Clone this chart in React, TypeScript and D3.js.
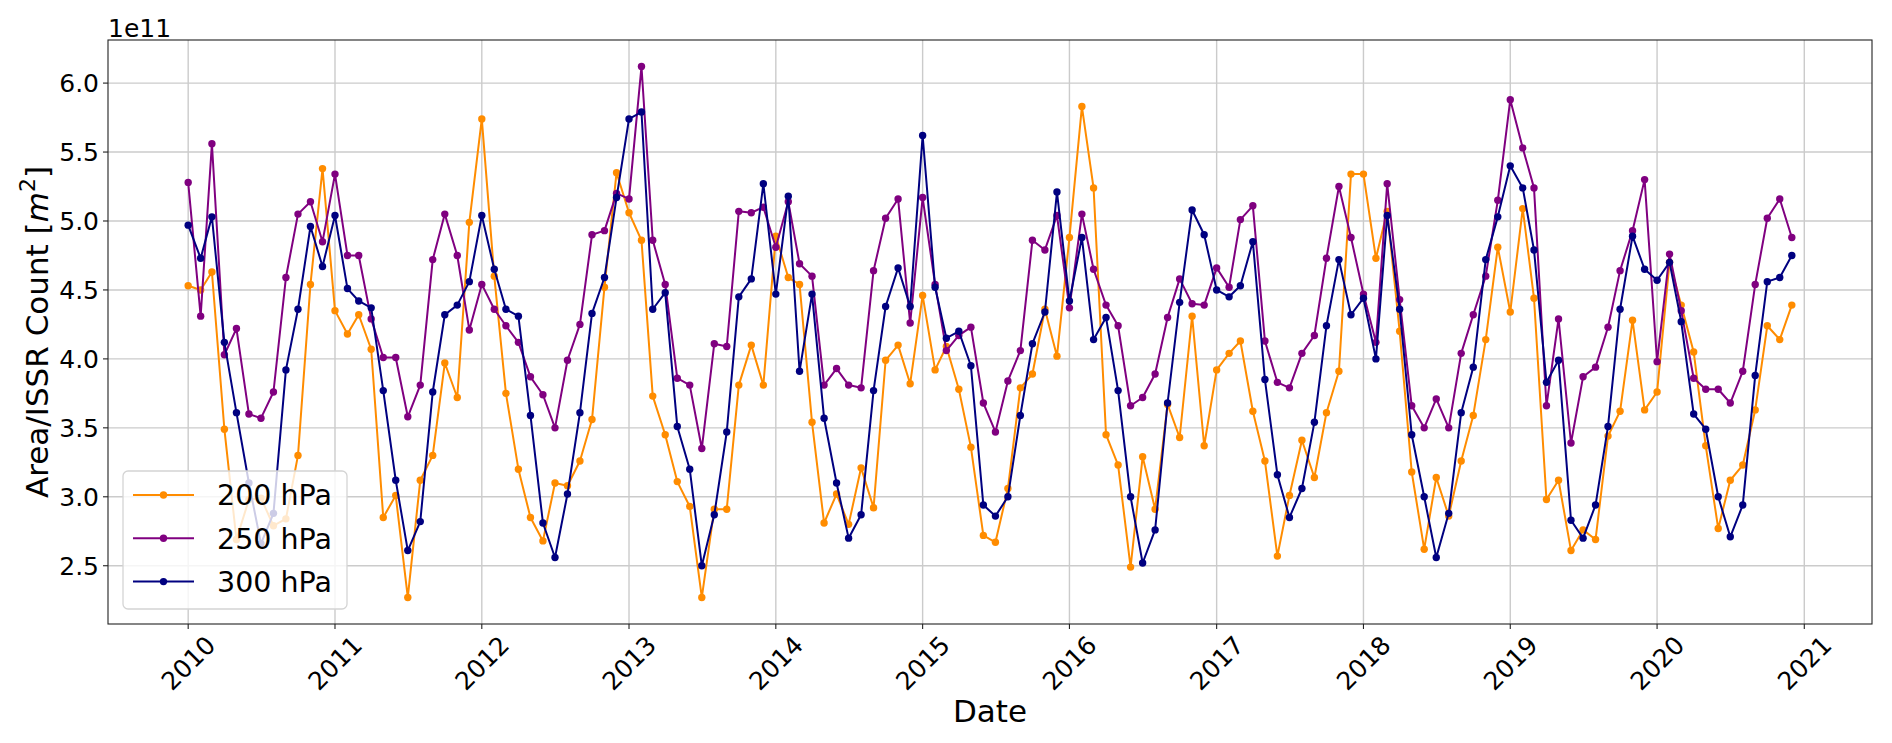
import { useEffect } from "react"
import * as d3 from "d3"

// monthly values, Jan 2010 .. Dec 2020, in units of 1e11 m^2
const hpa200 = [
  4.53, 4.5, 4.63, 3.49, 2.69, 2.98, 2.99, 2.79, 2.84, 3.3, 4.54, 5.38,
  4.35, 4.18, 4.32, 4.07, 2.85, 3.01, 2.27, 3.12, 3.3, 3.97, 3.72, 4.99,
  5.74, 4.6, 3.75, 3.2, 2.85, 2.68, 3.1, 3.08, 3.26, 3.56, 4.52, 5.35,
  5.06, 4.86, 3.73, 3.45, 3.11, 2.93, 2.27, 2.91, 2.91, 3.81, 4.1, 3.81,
  4.89, 4.59, 4.54, 3.54, 2.81, 3.02, 2.8, 3.21, 2.92, 3.99, 4.1, 3.82,
  4.46, 3.92, 4.09, 3.78, 3.36, 2.72, 2.67, 3.06, 3.79, 3.89, 4.36, 4.02,
  4.88, 5.83, 5.24, 3.45, 3.23, 2.49, 3.29, 2.91, 3.67, 3.43, 4.31, 3.37,
  3.92, 4.04, 4.13, 3.62, 3.26, 2.57, 3.01, 3.41, 3.14, 3.61, 3.91, 5.34,
  5.34, 4.73, 5.07, 4.2, 3.18, 2.62, 3.14, 2.86, 3.26, 3.59, 4.14, 4.81,
  4.34, 5.09, 4.44, 2.98, 3.12, 2.61, 2.76, 2.69, 3.44, 3.62, 4.28, 3.63,
  3.76, 4.7, 4.39, 4.05, 3.37, 2.77, 3.12, 3.23, 3.63, 4.24, 4.14, 4.39,
]
const hpa250 = [
  5.28, 4.31, 5.56, 4.03, 4.22, 3.6, 3.57, 3.76, 4.59, 5.05, 5.14, 4.85,
  5.34, 4.75, 4.75, 4.29, 4.01, 4.01, 3.58, 3.81, 4.72, 5.05, 4.75, 4.21,
  4.54, 4.36, 4.24, 4.12, 3.87, 3.74, 3.5, 3.99, 4.25, 4.9, 4.93, 5.2,
  5.16, 6.12, 4.86, 4.54, 3.86, 3.81, 3.35, 4.11, 4.09, 5.07, 5.06, 5.1,
  4.81, 5.14, 4.69, 4.6, 3.81, 3.93, 3.81, 3.79, 4.64, 5.02, 5.16, 4.26,
  5.17, 4.54, 4.06, 4.17, 4.23, 3.68, 3.47, 3.84, 4.06, 4.86, 4.79, 5.04,
  4.37, 5.05, 4.65, 4.39, 4.24, 3.66, 3.72, 3.89, 4.3, 4.58, 4.4, 4.39,
  4.66, 4.52, 5.01, 5.11, 4.13, 3.83, 3.79, 4.04, 4.17, 4.73, 5.25, 4.88,
  4.47, 4.12, 5.27, 4.43, 3.66, 3.5, 3.71, 3.5, 4.04, 4.32, 4.6, 5.15,
  5.88, 5.53, 5.24, 3.66, 4.29, 3.39, 3.87, 3.94, 4.23, 4.64, 4.93, 5.3,
  3.98, 4.76, 4.35, 3.86, 3.78, 3.78, 3.68, 3.91, 4.54, 5.02, 5.16, 4.88,
]
const hpa300 = [
  4.97, 4.73, 5.03, 4.12, 3.61, 3.1, 2.66, 2.88, 3.92, 4.36, 4.96, 4.67,
  5.04, 4.51, 4.42, 4.37, 3.77, 3.12, 2.61, 2.82, 3.76, 4.32, 4.39, 4.56,
  5.04, 4.65, 4.36, 4.31, 3.59, 2.81, 2.56, 3.02, 3.61, 4.33, 4.59, 5.17,
  5.74, 5.79, 4.36, 4.48, 3.51, 3.2, 2.5, 2.87, 3.47, 4.45, 4.58, 5.27,
  4.47, 5.18, 3.91, 4.47, 3.57, 3.1, 2.7, 2.87, 3.77, 4.38, 4.66, 4.38,
  5.62, 4.52, 4.15, 4.2, 3.95, 2.94, 2.86, 3.0, 3.59, 4.11, 4.34, 5.21,
  4.42, 4.88, 4.14, 4.3, 3.77, 3.0, 2.52, 2.76, 3.68, 4.41, 5.08, 4.9,
  4.5, 4.45, 4.53, 4.85, 3.85, 3.16, 2.85, 3.06, 3.54, 4.24, 4.72, 4.32,
  4.44, 4.0, 5.04, 4.36, 3.45, 3.0, 2.56, 2.88, 3.61, 3.94, 4.72, 5.03,
  5.4, 5.24, 4.79, 3.83, 3.99, 2.83, 2.7, 2.94, 3.51, 4.36, 4.89, 4.65,
  4.57, 4.7, 4.27, 3.6, 3.49, 3.0, 2.71, 2.94, 3.88, 4.56, 4.59, 4.75,
]
const seriesNames = ["200 hPa", "250 hPa", "300 hPa"]
const seriesColors = ["darkorange", "purple", "navy"]
const yTicks = [2.5, 3.0, 3.5, 4.0, 4.5, 5.0, 5.5, 6.0]
const xTickYears = d3.range(2010, 2022)

const W = 1892
const H = 743
const margin = { top: 40, right: 20, bottom: 119, left: 108 }
const font = "DejaVu Sans, sans-serif"

export default function App() {
  useEffect(() => {
    document.body.style.margin = "0"
  }, [])

  const allSeries = [hpa200, hpa250, hpa300]
  const dates = hpa200.map((_, i) => new Date(2010, i, 1))

  // matplotlib-like 5% padding
  const t0 = +dates[0]
  const t1 = +dates[dates.length - 1]
  const tp = (t1 - t0) * 0.05
  const x = d3
    .scaleTime()
    .domain([new Date(t0 - tp), new Date(t1 + tp)])
    .range([margin.left, W - margin.right])

  const lo = d3.min(allSeries.flat()) as number
  const hi = d3.max(allSeries.flat()) as number
  const yp = (hi - lo) * 0.05
  const y = d3
    .scaleLinear()
    .domain([lo - yp, hi + yp])
    .range([H - margin.bottom, margin.top])

  const line = d3
    .line<number>()
    .x((_, i) => x(dates[i]))
    .y((d) => y(d))

  const x0 = margin.left
  const x1 = W - margin.right
  const y0 = H - margin.bottom
  const y1 = margin.top

  return (
    <svg width={W} height={H} style={{ display: "block" }} fontFamily={font}>
      <rect x={0} y={0} width={W} height={H} fill="#fff" />

      {/* grid */}
      {xTickYears.map((yr) => (
        <line key={"gx" + yr} x1={x(new Date(yr, 0, 1))} x2={x(new Date(yr, 0, 1))} y1={y1} y2={y0} stroke="#cbcbcb" strokeWidth={1.4} />
      ))}
      {yTicks.map((t) => (
        <line key={"gy" + t} x1={x0} x2={x1} y1={y(t)} y2={y(t)} stroke="#cbcbcb" strokeWidth={1.4} />
      ))}

      {/* series */}
      {allSeries.map((s, k) => (
        <g key={seriesNames[k]}>
          <path d={line(s) || ""} fill="none" stroke={seriesColors[k]} strokeWidth={2} strokeLinejoin="round" />
          {s.map((v, i) => (
            <circle key={i} cx={x(dates[i])} cy={y(v)} r={3.7} fill={seriesColors[k]} />
          ))}
        </g>
      ))}

      {/* spines */}
      <rect x={x0} y={y1} width={x1 - x0} height={y0 - y1} fill="none" stroke="#222" strokeWidth={1.1} />

      {/* y axis */}
      {yTicks.map((t) => (
        <g key={"yt" + t}>
          <line x1={x0 - 5} x2={x0} y1={y(t)} y2={y(t)} stroke="#222" strokeWidth={1.1} />
          <text x={x0 - 9} y={y(t)} dy="0.36em" textAnchor="end" fontSize={25} fill="#000">
            {d3.format(".1f")(t)}
          </text>
        </g>
      ))}
      <text x={x0} y={37} fontSize={25} fill="#000">1e11</text>
      <text transform={`translate(48,${(y0 + y1) / 2}) rotate(-90)`} textAnchor="middle" fontSize={31} fill="#000">
        Area/ISSR Count [<tspan fontStyle="italic">m</tspan>
        <tspan fontSize={22} dy={-13}>2</tspan>
        <tspan dy={13}>]</tspan>
      </text>

      {/* x axis */}
      {xTickYears.map((yr) => {
        const px = x(new Date(yr, 0, 1))
        return (
          <g key={"xt" + yr}>
            <line x1={px} x2={px} y1={y0} y2={y0 + 5} stroke="#222" strokeWidth={1.1} />
            <text transform={`translate(${px},${y0 + 39}) rotate(-45)`} textAnchor="middle" dy="0.36em" fontSize={25} fill="#000">
              {yr}
            </text>
          </g>
        )
      })}
      <text x={(x0 + x1) / 2} y={722} textAnchor="middle" fontSize={31} fill="#000">Date</text>

      {/* legend */}
      <g>
        <rect x={123} y={471} width={224} height={138} rx={5} fill="#fff" fillOpacity={0.8} stroke="#d4d4d4" strokeWidth={1.3} />
        {seriesNames.map((n, k) => {
          const ly = 495 + k * 43.3
          return (
            <g key={"lg" + n}>
              <line x1={133} x2={194} y1={ly} y2={ly} stroke={seriesColors[k]} strokeWidth={2} />
              <circle cx={163.5} cy={ly} r={3.7} fill={seriesColors[k]} />
              <text x={217} y={ly} dy="0.36em" fontSize={28.5} fill="#000">{n}</text>
            </g>
          )
        })}
      </g>
    </svg>
  )
}
